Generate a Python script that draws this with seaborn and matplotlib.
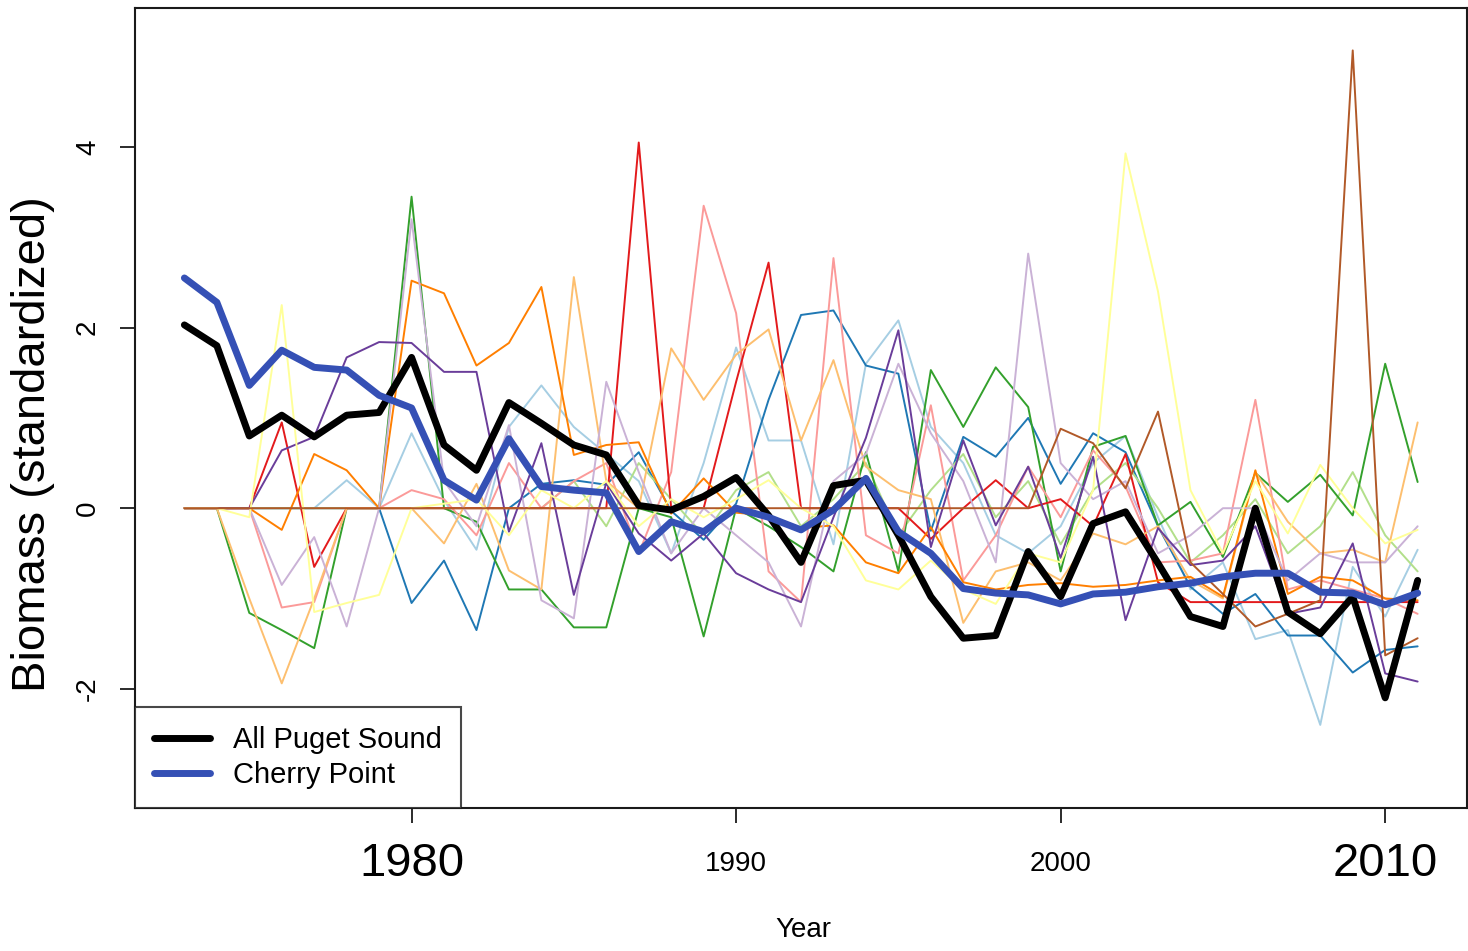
import numpy as np
import pandas as pd
import matplotlib
matplotlib.use("Agg")
import matplotlib.pyplot as plt
import seaborn as sns
from matplotlib.lines import Line2D

# ---- data -----------------------------------------------------------------
years = list(range(1973, 2012))

all_puget_sound = [2.03, 1.80, 0.80, 1.03, 0.79, 1.03, 1.06, 1.67, 0.70, 0.42,
                   1.17, 0.94, 0.70, 0.59, 0.03, -0.02, 0.13, 0.34, -0.08, -0.60,
                   0.25, 0.31, -0.30, -0.98, -1.44, -1.41, -0.48, -0.98, -0.17, -0.04,
                   -0.61, -1.20, -1.31, 0.00, -1.15, -1.39, -0.98, -2.10, -0.80]

cherry_point = [2.55, 2.28, 1.36, 1.75, 1.56, 1.53, 1.25, 1.11, 0.31, 0.09,
                0.77, 0.24, 0.20, 0.17, -0.48, -0.15, -0.26, 0.00, -0.10, -0.24,
                -0.02, 0.33, -0.26, -0.50, -0.89, -0.94, -0.96, -1.06, -0.95, -0.93,
                -0.87, -0.83, -0.76, -0.72, -0.72, -0.93, -0.94, -1.07, -0.94]

# individual spawning stocks (standardized biomass, 0 before a stock's record starts)
stock_01 = [0, 0, 0, 0, 0, 0.31, 0, 0.83, 0.09, -0.46,
            0.90, 1.36, 0.90, 0.60, 0.30, -0.50, 0.50, 1.78, 0.75, 0.75,
            -0.40, 1.60, 2.08, 0.90, 0.50, -0.30, -0.50, -0.20, 0.50, 0.80,
            -0.10, -0.90, -0.60, -1.45, -1.35, -2.40, -0.65, -1.20, -0.46]
stock_02 = [0, 0, 0, 0, 0, 0, 0, -1.05, -0.58, -1.35,
            0.00, 0.27, 0.31, 0.26, 0.62, -0.03, -0.35, 0.05, 1.20, 2.14,
            2.19, 1.58, 1.49, -0.25, 0.79, 0.57, 1.00, 0.27, 0.83, 0.62,
            -0.20, -0.87, -1.17, -0.95, -1.41, -1.41, -1.82, -1.57, -1.53]
stock_03 = [0, 0, 0, 0, 0, 0, 0, 0, 0, 0,
            0, 0, 0.30, -0.20, 0.50, 0.10, -0.30, 0.20, 0.40, -0.20,
            0.10, 0.50, -0.30, 0.20, 0.60, -0.10, 0.30, -0.40, 0.20, 0.50,
            0.00, -0.60, -0.30, 0.10, -0.50, -0.20, 0.40, -0.30, -0.70]
stock_04 = [0, 0, -1.16, -1.35, -1.55, 0, 0, 3.45, 0.00, -0.15,
            -0.90, -0.90, -1.32, -1.32, 0.00, -0.10, -1.42, 0.00, -0.20, -0.43,
            -0.70, 0.62, -0.70, 1.53, 0.90, 1.56, 1.12, -0.70, 0.68, 0.80,
            -0.19, 0.07, -0.54, 0.39, 0.07, 0.37, -0.08, 1.60, 0.29]
stock_05 = [0, 0, 0, -1.10, -1.04, 0, 0, 0.20, 0.10, -0.30,
            0.50, 0.00, 0.30, 0.50, -0.50, 0.40, 3.35, 2.16, -0.70, -1.04,
            2.77, -0.30, -0.50, 1.14, -0.80, -0.30, 0.46, -0.10, 0.64, 0.24,
            -0.60, -0.58, -0.50, 1.20, -0.90, -0.80, -0.90, -1.00, -1.17]
stock_06 = [0, 0, 0, 0.95, -0.65, 0, 0, 0, 0, 0,
            0, 0, 0, 0, 4.05, 0, 0, 1.40, 2.72, 0,
            0, 0, 0, -0.34, 0.00, 0.31, 0.00, 0.10, -0.20, 0.60,
            -0.82, -1.04, -1.04, -1.04, -1.04, -1.04, -1.04, -1.04, -1.04]
stock_07 = [0, 0, -1.00, -1.94, -1.00, 0, 0, 0.00, -0.39, 0.27,
            -0.69, -0.90, 2.56, 0.30, 0.00, 1.77, 1.20, 1.70, 1.98, 0.75,
            1.64, 0.46, 0.20, 0.10, -1.27, -0.70, -0.60, -0.80, -0.28, -0.40,
            -0.20, -0.80, -1.00, 0.40, -0.15, -0.50, -0.46, -0.60, 0.95]
stock_08 = [0, 0, 0, -0.24, 0.60, 0.42, 0, 2.52, 2.38, 1.58,
            1.83, 2.45, 0.59, 0.70, 0.73, -0.06, 0.33, -0.05, -0.08, -0.22,
            -0.19, -0.60, -0.72, -0.21, -0.82, -0.90, -0.85, -0.83, -0.87, -0.85,
            -0.80, -0.76, -0.98, 0.42, -0.95, -0.76, -0.80, -1.00, -1.02]
stock_09 = [0, 0, 0, -0.85, -0.32, -1.31, 0, 3.20, 0.30, -0.20,
            0.92, -1.02, -1.22, 1.40, 0.40, -0.50, 0.00, -0.30, -0.60, -1.31,
            0.30, 0.60, 1.60, 0.83, 0.30, -0.60, 2.82, 0.50, 0.10, 0.30,
            -0.50, -0.30, 0.00, 0.00, -0.80, -0.50, -0.60, -0.60, -0.20]
stock_10 = [0, 0, 0, 0.64, 0.79, 1.67, 1.84, 1.83, 1.51, 1.51,
            -0.26, 0.72, -0.96, 0.28, -0.28, -0.58, -0.28, -0.72, -0.90, -1.04,
            -0.10, 0.78, 1.97, -0.43, 0.75, -0.19, 0.46, -0.55, 0.57, -1.24,
            -0.22, -0.63, -0.58, -0.20, -1.17, -1.10, -0.39, -1.83, -1.92]
stock_11 = [0, 0, -0.10, 2.25, -1.15, -1.05, -0.96, 0.00, 0.05, 0.10,
            -0.30, 0.20, 0.00, 0.30, -0.20, 0.10, -0.10, 0.10, 0.31, 0.00,
            -0.20, -0.80, -0.90, -0.58, -0.90, -1.06, -0.50, -0.60, 0.20, 3.93,
            2.40, 0.20, -0.50, 0.30, -0.28, 0.48, 0.00, -0.39, -0.24]
stock_12 = [0, 0, 0, 0, 0, 0, 0, 0, 0, 0,
            0, 0, 0, 0, 0, 0, 0, 0, 0, 0,
            0, 0, 0, 0, 0, 0, 0, 0.88, 0.72, 0.22,
            1.07, -0.60, -0.95, -1.31, -1.17, -1.02, 5.07, -1.63, -1.44]

stocks = [stock_01, stock_02, stock_03, stock_04, stock_05, stock_06,
          stock_07, stock_08, stock_09, stock_10, stock_11, stock_12]
stock_names = [f"stock {i + 1}" for i in range(len(stocks))]

x_ticks = [1980, 1990, 2000, 2010]
y_ticks = [-2, 0, 2, 4]
legend_labels = ["All Puget Sound", "Cherry Point"]

# ---- long-form tables --------------------------------------------------------
stock_df = pd.concat(
    [pd.DataFrame({"Year": years, "Biomass": vals, "stock": name})
     for name, vals in zip(stock_names, stocks)],
    ignore_index=True)
total_df = pd.DataFrame({"Year": years, "Biomass": all_puget_sound})
cherry_df = pd.DataFrame({"Year": years, "Biomass": cherry_point})

# ---- figure -------------------------------------------------------------------
sns.set_style("white")
plt.rcParams["font.family"] = ["Liberation Sans", "DejaVu Sans"]
plt.rcParams["text.color"] = "black"
plt.rcParams["xtick.color"] = "black"
plt.rcParams["ytick.color"] = "black"
plt.rcParams["axes.labelcolor"] = "black"

fig = plt.figure(figsize=(14.68, 9.51), dpi=100)
ax = fig.add_axes([0.0920, 0.1504, 0.9073, 0.8412])

paired = sns.color_palette("Paired", 12)
sns.lineplot(data=stock_df, x="Year", y="Biomass", hue="stock",
             palette=paired, linewidth=1.4, legend=False, ax=ax)
sns.lineplot(data=total_df, x="Year", y="Biomass", color="black",
             linewidth=5.0, ax=ax)
sns.lineplot(data=cherry_df, x="Year", y="Biomass", color="#3550B5",
             linewidth=5.0, ax=ax)

ax.set_xlim(1971.48, 2012.52)
ax.set_ylim(-3.32, 5.54)
ax.set_xlabel("")
ax.set_ylabel("")

for side in ["left", "right", "top", "bottom"]:
    ax.spines[side].set_visible(True)
    ax.spines[side].set_color("#1a1a1a")
    ax.spines[side].set_linewidth(1.5)

ax.set_xticks(x_ticks)
ax.set_xticklabels([str(t) for t in x_ticks])
ax.set_yticks(y_ticks)
ax.set_yticklabels([str(t) for t in y_ticks], rotation=90, va="center")
ax.tick_params(axis="both", direction="out", length=10.5, width=1.3,
               color="#1a1a1a", labelcolor="black", bottom=True, left=True)
ax.tick_params(axis="x", pad=30, labelsize=20)
ax.tick_params(axis="y", pad=14, labelsize=20)
for lab in ax.get_xticklabels():
    lab.set_va("center")
    if lab.get_text() in ("1980", "2010"):
        lab.set_fontsize(34)

fig.text(33 / 1468, 1 - 444 / 951, "Biomass (standardized)", rotation=90,
         ha="center", va="center", fontsize=34, color="black")
fig.text(803 / 1468, 1 - 930 / 951, "Year", ha="center", va="center",
         fontsize=20, color="black")

handles = [Line2D([0], [0], color="black", linewidth=5.0),
           Line2D([0], [0], color="#3550B5", linewidth=5.0)]
leg = ax.legend(handles, legend_labels, loc="lower left",
                bbox_to_anchor=(0, 0), borderaxespad=0, fontsize=21,
                frameon=True, fancybox=False, edgecolor="#1a1a1a",
                handlelength=1.9, handletextpad=0.8, labelspacing=0.22,
                borderpad=0.66)
leg.get_frame().set_linewidth(1.5)
for txt in leg.get_texts():
    txt.set_color("black")

fig.savefig("out.png", dpi=100)
